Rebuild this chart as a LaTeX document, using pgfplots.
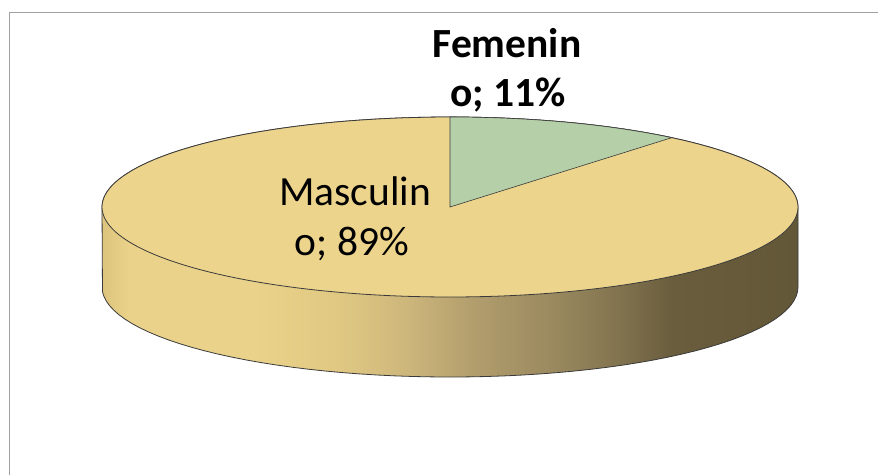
\documentclass[border=0pt]{standalone}
\usepackage{fontspec}
\setmainfont{Carlito}
\usepackage{pgfplots}
\pgfplotsset{compat=1.18}
\definecolor{topgold}{HTML}{EDD48C}
\definecolor{fgreen}{HTML}{B5D0A8}
\definecolor{edge}{HTML}{3A3A3A}
\definecolor{frame}{HTML}{A0A0A0}
\definecolor{sa}{HTML}{DCC47E}
\definecolor{sb}{HTML}{EAD28A}
\definecolor{sc}{HTML}{E0C883}
\definecolor{sd}{HTML}{CDB67B}
\definecolor{se}{HTML}{B09C6C}
\definecolor{sf}{HTML}{9C8B60}
\definecolor{sg}{HTML}{82744F}
\definecolor{sh}{HTML}{6A5D3E}
\definecolor{si}{HTML}{625737}
\pgfdeclarehorizontalshading{sideshade}{100bp}{%
  color(0bp)=(sa); color(25bp)=(sa); color(27bp)=(sb);
  color(36bp)=(sb); color(42bp)=(sc); color(47bp)=(sd);
  color(52bp)=(se); color(57bp)=(sf); color(62bp)=(sg);
  color(66bp)=(sh); color(75bp)=(si); color(100bp)=(si)}
% data (percent)
\def\vmas{89}
\def\vfem{11}
% geometry (px)
\def\cx{450}\def\cy{207}\def\rx{348}\def\ry{90}\def\dep{80}
\begin{document}
\begin{tikzpicture}
\begin{axis}[hide axis, scale only axis, width=878pt, height=475pt,
  xmin=0, xmax=878, ymin=0, ymax=475, y dir=reverse, clip=false]
% frame
\addplot[frame, line width=1pt] coordinates {(9,475) (9,12) (878,12)};
% side silhouette (upper half of top ellipse + lower half of bottom ellipse)
\addplot[shade, shading=sideshade, draw=edge, line width=0.8pt,
  samples at={0,3,...,180,180.001,183,...,357,360}, variable=\t]
  ({\cx+\rx*cos(\t)}, {\cy-\ry*sin(\t)+(\t>180 ? \dep : 0)}) -- cycle;
% top ellipse: Masculino slice (89%)
\addplot[fill=topgold, draw=edge, line width=0.8pt,
  domain=0:360, samples=181, variable=\t]
  ({\cx+\rx*cos(\t)}, {\cy-\ry*sin(\t)}) -- cycle;
% Femenino slice (11%): from 90 deg clockwise by 3.6*11 = 39.6 deg
\addplot[fill=fgreen, draw=edge, line width=0.6pt,
  samples at={-1,50.4,52,...,88,90,999}, variable=\t]
  ({(\t<0 || \t>900) ? \cx : \cx+\rx*cos(\t)},
   {(\t<0 || \t>900) ? \cy : \cy-\ry*sin(\t)}) -- cycle;
% labels
\node[anchor=base, font=\fontsize{41.5}{50}\selectfont\bfseries] at (axis cs:507,57) {Femenin};
\node[anchor=base, font=\fontsize{41.5}{50}\selectfont\bfseries] at (axis cs:508,106) {o; 11\%};
\node[anchor=base, font=\fontsize{41.5}{50}\selectfont] at (axis cs:355,205) {Masculin};
\node[anchor=base, font=\fontsize{41.5}{50}\selectfont] at (axis cs:352,255) {o; 89\%};
\end{axis}
\pgfresetboundingbox
\path (current axis.south west) rectangle (current axis.north east);
\end{tikzpicture}
\end{document}
